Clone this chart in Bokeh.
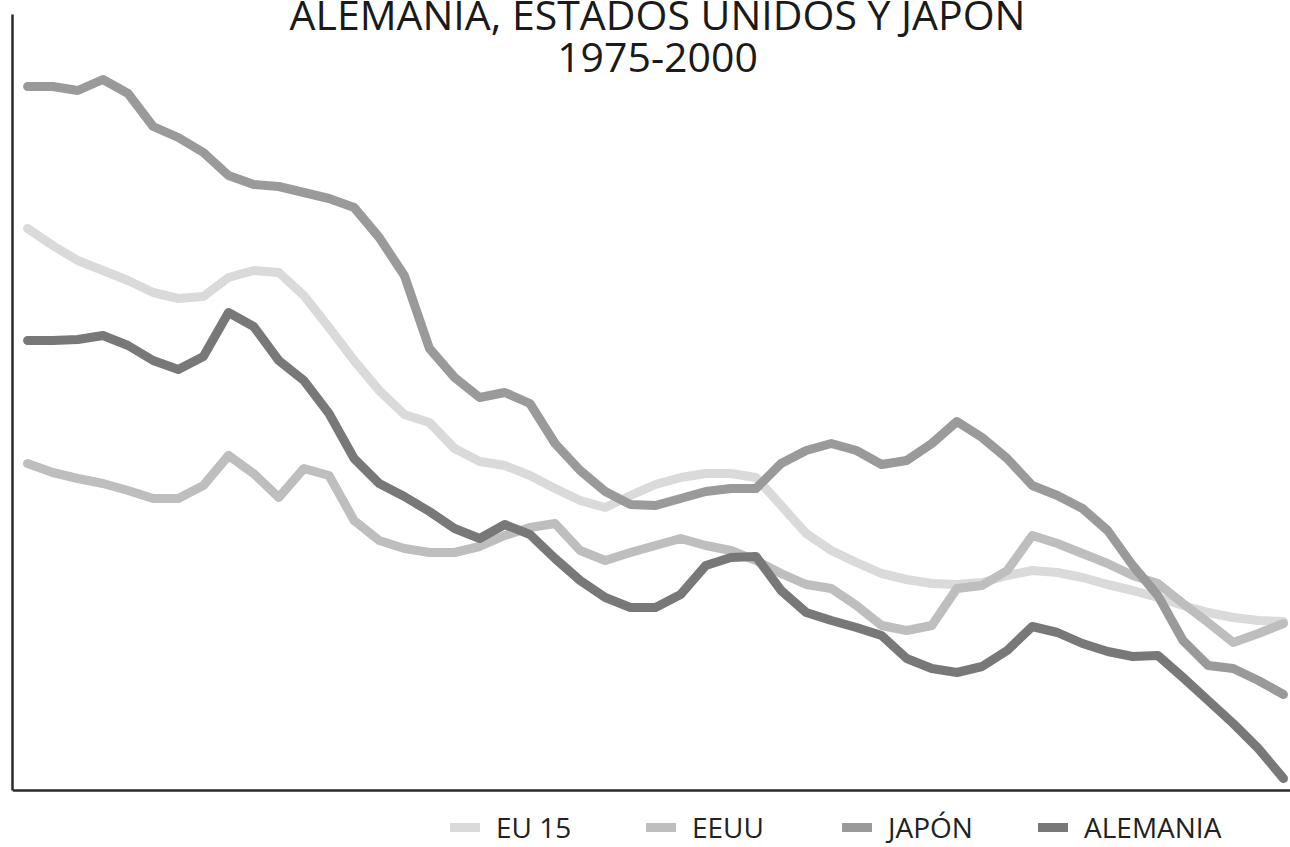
from bokeh.plotting import figure
from bokeh.models import Legend, LegendItem, Label, Range1d, FixedTicker
from bokeh.embed import file_html
from bokeh.resources import INLINE

FONT = "Open Sans"

# half-year steps, 1975-2000 (index of the series, arbitrary units)
years = [1975 + i / 2 for i in range(51)]

eu15 = [56.2, 54.5, 53.0, 52.0, 51.0, 49.8, 49.2, 49.4, 51.3, 52.0,
        51.8, 49.5, 46.3, 43.0, 40.0, 37.6, 36.8, 34.2, 32.9, 32.5,
        31.5, 30.2, 29.0, 28.3, 29.5, 30.6, 31.3, 31.7, 31.7, 31.3,
        28.5, 25.7, 24.0, 22.8, 21.7, 21.1, 20.7, 20.6, 20.8, 21.5,
        22.0, 21.8, 21.3, 20.6, 20.0, 19.3, 18.5, 17.8, 17.3, 17.0, 16.9]

eeuu = [32.7, 31.8, 31.2, 30.7, 30.0, 29.2, 29.2, 30.5, 33.5, 31.7,
        29.3, 32.2, 31.5, 27.0, 25.0, 24.2, 23.8, 23.8, 24.4, 25.5,
        26.3, 26.7, 24.0, 23.0, 23.8, 24.5, 25.2, 24.5, 24.0, 23.0,
        21.7, 20.6, 20.2, 18.5, 16.5, 16.0, 16.5, 20.2, 20.5, 22.0,
        25.5, 24.7, 23.7, 22.7, 21.5, 20.7, 18.7, 16.8, 14.8, 15.7, 16.7]

japon = [70.4, 70.4, 70.0, 71.1, 69.7, 66.4, 65.3, 63.8, 61.5, 60.6,
         60.4, 59.8, 59.2, 58.3, 55.3, 51.5, 44.2, 41.3, 39.3, 39.8,
         38.7, 34.7, 32.0, 29.9, 28.6, 28.5, 29.2, 29.9, 30.2, 30.2,
         32.7, 34.0, 34.7, 34.0, 32.6, 33.0, 34.7, 36.9, 35.3, 33.2,
         30.5, 29.5, 28.2, 26.0, 22.5, 19.5, 15.0, 12.5, 12.2, 11.0, 9.6]

alemania = [45.0, 45.0, 45.1, 45.5, 44.5, 43.0, 42.1, 43.4, 47.8, 46.4,
            43.0, 41.0, 37.7, 33.2, 30.7, 29.4, 27.9, 26.2, 25.2, 26.6,
            25.6, 23.2, 21.0, 19.3, 18.3, 18.3, 19.6, 22.5, 23.3, 23.4,
            20.0, 17.8, 17.0, 16.3, 15.5, 13.2, 12.2, 11.8, 12.4, 14.0,
            16.4, 15.8, 14.7, 13.9, 13.4, 13.5, 11.3, 9.0, 6.7, 4.2, 1.2]

series_names = ["EU 15", "EEUU", "JAPÓN", "ALEMANIA"]
series_values = [eu15, eeuu, japon, alemania]
series_colors = ["#dadada", "#bebebe", "#9a9a9a", "#787878"]

title_lines = ["ALEMANIA, ESTADOS UNIDOS Y JAPÓN", "1975-2000"]

Y_TOP = 77.6
p = figure(width=1290, height=847, output_backend="svg", toolbar_location=None,
           x_range=Range1d(1974.70, 2000.14), y_range=Range1d(-5.7, 79.0),
           min_border_left=12, min_border_right=0, min_border_top=0,
           min_border_bottom=0)
p.outline_line_color = None
p.grid.visible = False
p.background_fill_color = "white"
p.border_fill_color = "white"

for ax in p.axis:
    ax.ticker = FixedTicker(ticks=[])
    ax.major_tick_line_color = None
    ax.minor_tick_line_color = None
    ax.major_label_text_font_size = "0px"
    ax.major_label_standoff = 0
    ax.axis_line_color = "#2a2a2a"
    ax.axis_line_width = 2.5

p.yaxis.bounds = (0, Y_TOP)
p.xaxis.fixed_location = 0

renderers = []
for vals, col in zip(series_values, series_colors):
    r = p.line(years, vals, line_color=col, line_width=9,
               line_cap="round", line_join="round")
    renderers.append(r)

legend = Legend(items=[LegendItem(label=n, renderers=[r])
                       for n, r in zip(series_names, renderers)],
                location=(438, 1), orientation="horizontal",
                padding=0, margin=0, spacing=13,
                glyph_width=30, glyph_height=10, label_standoff=16,
                label_width=137,
                label_text_font=FONT, label_text_font_size="28px",
                label_text_color="#222222",
                border_line_color=None, background_fill_alpha=0)
p.add_layout(legend)

p.add_layout(Label(x=1987.54, y=77.7, text=title_lines[0], text_align="center",
                   text_baseline="alphabetic", text_font=FONT,
                   text_font_size="41px", text_color="#1a1a1a"))
p.add_layout(Label(x=1987.54, y=73.3, text=title_lines[1], text_align="center",
                   text_baseline="alphabetic", text_font=FONT,
                   text_font_size="41px", text_color="#1a1a1a"))

open("out.html", "w").write(file_html(p, INLINE))
